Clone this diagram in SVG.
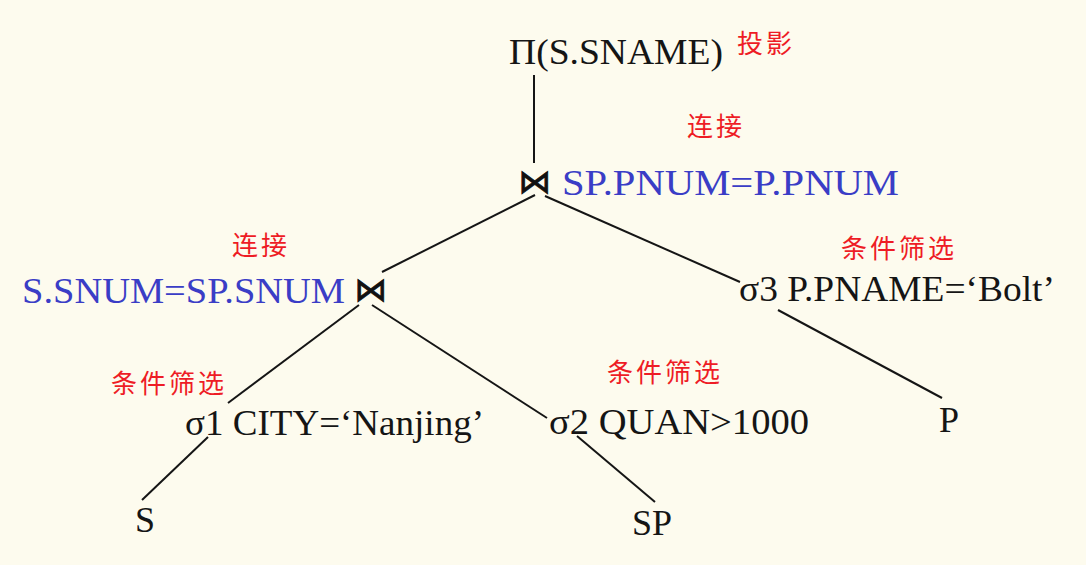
<svg xmlns="http://www.w3.org/2000/svg" width="1086" height="565" viewBox="0 0 1086 565">
<style>
.t{font-family:"Liberation Serif","DejaVu Serif",serif;font-size:36px;fill:#151515}
.b{font-family:"Liberation Serif","DejaVu Serif",serif;font-size:36px;fill:#3A3DC6}
.c{font-family:"Noto Sans CJK SC","Noto Sans",sans-serif;font-size:26px;fill:#EE1C25;letter-spacing:3px}
.j{font-family:"DejaVu Sans",sans-serif;font-size:33px;fill:#111;stroke:#111;stroke-width:0.8}
.e{stroke:#151515;stroke-width:2;fill:none}
</style>
<rect width="1086" height="565" fill="#FDFBEE"/>
<g id="connectors">
<line class="e" x1="534" y1="75" x2="534" y2="163"/>
<line class="e" x1="535" y1="195" x2="382" y2="272"/>
<line class="e" x1="545" y1="196" x2="740" y2="282"/>
<line class="e" x1="359" y1="305" x2="228" y2="403"/>
<line class="e" x1="372" y1="305" x2="547" y2="418"/>
<line class="e" x1="208" y1="437" x2="142" y2="500"/>
<line class="e" x1="577" y1="436" x2="655" y2="502"/>
<line class="e" x1="778" y1="310" x2="942" y2="398"/>
</g>
<g id="project">
<text class="t" x="509" y="64" textLength="214" lengthAdjust="spacingAndGlyphs">Π(S.SNAME)</text>
<text class="c" x="737" y="53">投影</text>
</g>
<g id="join1">
<text class="c" x="687" y="136">连接</text>
<text class="j" x="535" y="193" text-anchor="middle">⋈</text>
<text class="b" x="562" y="195" textLength="337" lengthAdjust="spacingAndGlyphs">SP.PNUM=P.PNUM</text>
</g>
<g id="join2">
<text class="c" x="232" y="255">连接</text>
<text class="b" x="22" y="303" textLength="323" lengthAdjust="spacingAndGlyphs">S.SNUM=SP.SNUM</text>
<text class="j" x="371" y="301" text-anchor="middle">⋈</text>
</g>
<g id="select3">
<text class="c" x="841" y="258">条件筛选</text>
<text class="t" x="739" y="301" textLength="316" lengthAdjust="spacingAndGlyphs">σ3 P.PNAME=‘Bolt’</text>
</g>
<g id="select1">
<text class="c" x="111" y="393">条件筛选</text>
<text class="t" x="185" y="435" textLength="299" lengthAdjust="spacingAndGlyphs">σ1 CITY=‘Nanjing’</text>
</g>
<g id="select2">
<text class="c" x="607" y="382">条件筛选</text>
<text class="t" x="549" y="434" textLength="260" lengthAdjust="spacingAndGlyphs">σ2 QUAN&gt;1000</text>
</g>
<g id="S"><text class="t" x="135" y="532">S</text></g>
<g id="SP"><text class="t" x="632" y="535">SP</text></g>
<g id="P"><text class="t" x="939" y="432">P</text></g>
</svg>
